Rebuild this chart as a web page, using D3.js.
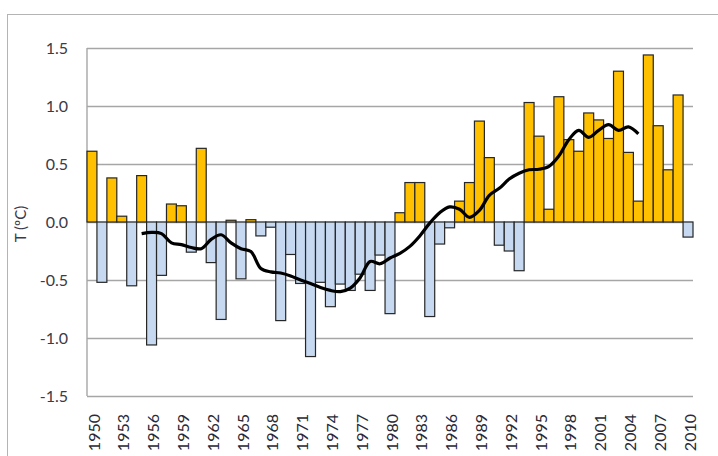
<!DOCTYPE html>
<html>
<head>
<meta charset="utf-8">
<script src="https://cdn.jsdelivr.net/npm/d3@7"></script>
<style>
    body { margin: 0; background: #fff; }
    text { font-family: Lato, 'Open Sans', sans-serif; }
</style>
</head>
<body>
<div id="main"></div>
<script>
var years = d3.range(1950, 2011);
var anomalies = [
    0.61, -0.52, 0.38, 0.05, -0.55, 0.40, -1.06, -0.46, 0.155, 0.14,
    -0.26, 0.635, -0.35, -0.84, 0.015, -0.49, 0.02, -0.12, -0.045, -0.85,
    -0.28, -0.53, -1.16, -0.52, -0.73, -0.535, -0.59, -0.45, -0.59, -0.285,
    -0.79, 0.08, 0.34, 0.34, -0.815, -0.19, -0.05, 0.18, 0.34, 0.87,
    0.555, -0.20, -0.25, -0.42, 1.03, 0.74, 0.11, 1.08, 0.71, 0.61,
    0.94, 0.88, 0.72, 1.30, 0.60, 0.18, 1.44, 0.83, 0.45, 1.095,
    -0.13];
var smoothYears = d3.range(1955, 2006);
var smoothValues = [
    -0.10, -0.09, -0.10, -0.18, -0.195, -0.22, -0.23, -0.15, -0.11, -0.18,
    -0.23, -0.255, -0.40, -0.43, -0.44, -0.465, -0.50, -0.53, -0.565, -0.59,
    -0.60, -0.57, -0.48, -0.34, -0.36, -0.31, -0.27, -0.21, -0.12, -0.01,
    0.08, 0.13, 0.11, 0.04, 0.10, 0.23, 0.29, 0.37, 0.42, 0.45,
    0.455, 0.48, 0.57, 0.71, 0.79, 0.73, 0.79, 0.84, 0.79, 0.82,
    0.76];
var tickLabels = d3.range(1950, 2011, 3);
var yTicks = [-1.5, -1.0, -0.5, 0.0, 0.5, 1.0, 1.5];

var width = 718,
    height = 456;
var plot = {left: 87, right: 693, top: 48, bottom: 396};

var svg = d3.select('#main')
    .append('svg')
    .attr('width', width)
    .attr('height', height);

// chart area border
svg.append('rect')
    .attr('x', 7.5)
    .attr('y', 14.5)
    .attr('width', 800)
    .attr('height', 600)
    .attr('fill', '#fff')
    .attr('stroke', '#b4b4b4');

var x = d3.scaleBand()
    .domain(years)
    .range([plot.left, plot.right])
    .padding(0);
var y = d3.scaleLinear()
    .domain([-1.5, 1.5])
    .range([plot.bottom, plot.top]);

var yAxis = svg.append('g')
    .attr('class', 'y-axis')
    .attr('transform', 'translate(' + plot.left + ',0)')
    .call(d3.axisLeft(y)
        .tickValues(yTicks)
        .tickSize(-(plot.right - plot.left))
        .tickPadding(19)
        .tickFormat(d => d.toFixed(1)));
yAxis.select('.domain').remove();
yAxis.selectAll('.tick line')
    .attr('stroke', '#a6a6a6')
    .attr('stroke-width', 1.4);
yAxis.selectAll('.tick text')
    .attr('fill', '#3a3a48')
    .style('font-size', '16px')
    .style('font-family', 'Lato, sans-serif');

svg.append('line')
    .attr('x1', plot.left)
    .attr('x2', plot.left)
    .attr('y1', plot.top)
    .attr('y2', plot.bottom)
    .attr('stroke', '#a6a6a6')
    .attr('stroke-width', 1.4);

svg.append('g')
    .attr('class', 'bars')
    .selectAll('rect')
    .data(anomalies)
    .enter()
    .append('rect')
    .attr('x', (d, i) => x(years[i]))
    .attr('width', x.bandwidth())
    .attr('y', d => y(Math.max(0, d)))
    .attr('height', d => Math.abs(y(d) - y(0)))
    .attr('fill', d => d >= 0 ? '#ffc000' : '#c6d9f1')
    .attr('stroke', '#262626')
    .attr('stroke-width', 1.2);

var line = d3.line()
    .x((d, i) => x(smoothYears[i]) + x.bandwidth() / 2)
    .y(d => y(d))
    .curve(d3.curveCatmullRom);

svg.append('path')
    .datum(smoothValues)
    .attr('d', line)
    .attr('fill', 'none')
    .attr('stroke', '#000')
    .attr('stroke-width', 3.2)
    .attr('stroke-linejoin', 'round');

svg.append('g')
    .attr('class', 'x-labels')
    .selectAll('text')
    .data(tickLabels)
    .enter()
    .append('text')
    .attr('transform', d => 'translate(' + (x(d) + x.bandwidth() / 2 + 2) + ',414) rotate(-90)')
    .attr('dy', '0.35em')
    .attr('text-anchor', 'end')
    .attr('fill', '#2a2a36')
    .style('font-size', '16px')
    .text(d => d);

svg.append('text')
    .attr('transform', 'translate(21,224) rotate(-90)')
    .attr('dy', '0.35em')
    .attr('text-anchor', 'middle')
    .attr('fill', '#3a3a48')
    .style('font-size', '15px')
    .text('T (ºC)');
</script>
</body>
</html>
